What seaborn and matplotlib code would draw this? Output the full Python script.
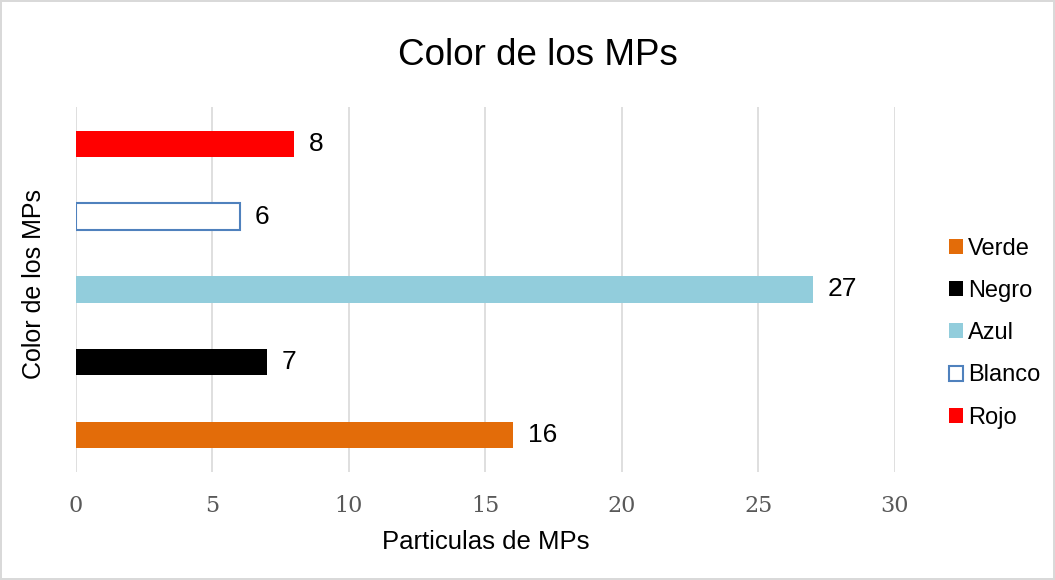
import pandas as pd
import numpy as np
import matplotlib.pyplot as plt
import seaborn as sns
from matplotlib.patches import Patch

sns.set_style('white')
plt.rcParams['font.family'] = ['Liberation Sans', 'DejaVu Sans']
plt.rcParams['text.color'] = '#000000'
plt.rcParams['axes.labelcolor'] = '#000000'

colores = ['Verde', 'Negro', 'Azul', 'Blanco', 'Rojo']
particulas = [16, 7, 27, 6, 8]
relleno = ['#E36C09', '#000000', '#92CDDC', '#FFFFFF', '#FF0000']
borde = ['#E36C09', '#000000', '#92CDDC', '#4F81BD', '#FF0000']

# orden de abajo hacia arriba como en Excel
df = pd.DataFrame({'color': colores[::-1], 'n': particulas[::-1]})
pal = dict(zip(colores, relleno))

fig = plt.figure(figsize=(10.55, 5.8), dpi=100)
fig.patch.set_edgecolor('#D9D9D9')
fig.patch.set_linewidth(1.5)
ax = fig.add_axes([0.072, 0.187, 0.776, 0.628])

sns.barplot(data=df, y='color', x='n', hue='color', palette=pal, orient='h',
            dodge=False, width=0.36, saturation=1, legend=False, ax=ax)

edge_map = dict(zip(colores, borde))
for bar, c in zip(ax.patches, df['color']):
    bar.set_edgecolor(edge_map[c])
    bar.set_linewidth(1.5 if c == 'Blanco' else 0)

for bar, v in zip(ax.patches, df['n']):
    ax.text(bar.get_width() + 0.55, bar.get_y() + bar.get_height() / 2, str(v),
            va='center', ha='left', fontsize=19, color='#000000')

ax.set_xlim(0, 30)
ax.set_xticks(range(0, 31, 5))
ax.set_yticks([])
ax.set_ylabel('Color de los MPs', fontsize=18, labelpad=20)
ax.yaxis.set_label_coords(-0.037, 0.515)
ax.set_xlabel('Particulas de MPs', fontsize=18.5, labelpad=9.5)
fig.suptitle('Color de los MPs', fontsize=26.5, x=0.51, y=0.905, va='center')
ax.grid(axis='x', color='#D9D9D9', linewidth=1.2)
ax.set_axisbelow(True)
for s in ax.spines.values():
    s.set_visible(False)
ax.tick_params(axis='x', length=0, pad=17, labelsize=16, labelcolor='#595959')
for t in ax.get_xticklabels():
    t.set_fontfamily(['DejaVu Serif'])

handles = [Patch(facecolor=f, edgecolor=e, linewidth=1.5 if c == 'Blanco' else 0)
           for c, f, e in zip(colores, relleno, borde)]
ax.legend(handles, colores, loc='center left', bbox_to_anchor=(1.055, 0.38),
          frameon=False, fontsize=17, handlelength=0.6, handleheight=0.6,
          handletextpad=0.2, labelspacing=0.86, borderaxespad=0)

fig.savefig('out.png', dpi=100)
